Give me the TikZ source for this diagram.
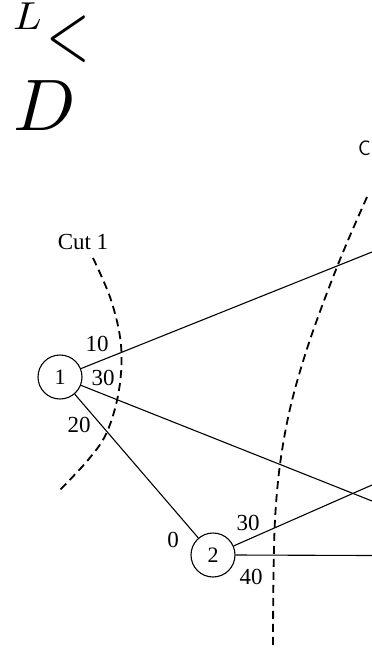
\documentclass[tikz,border=0pt]{standalone}
\usepackage{fontspec}
\setmainfont{Liberation Serif}
\usepackage{graphicx}
\begin{document}
\begin{tikzpicture}[x=1pt,y=-1pt,
  vert/.style={draw,circle,line width=1.1pt,minimum size=44pt,inner sep=0pt,font=\fontsize{22}{24}\selectfont},
  edge/.style={line width=1.1pt},
  cut/.style={line width=1.8pt,dash pattern=on 8pt off 5pt},
  lbl/.style={inner sep=0pt,font=\fontsize{23}{25}\selectfont}]
\useasboundingbox (0,0) rectangle (372,649);
\clip (0,0) rectangle (372,649);
% header symbols
\node[inner sep=0pt,anchor=base west] (hL) at (13,29) {\scalebox{4.2}[3.9]{$L$}};
\node[inner sep=0pt] (hlt) at (68,39) {\scalebox{5.6}[8.1]{$<$}};
\node[inner sep=0pt,anchor=base west] (hD) at (13,130) {\scalebox{7.3}{$D$}};
\node[inner sep=0pt,anchor=west,font=\sffamily\fontsize{21}{24}\selectfont] (c2) at (358,148) {C};
% vertices
\node[vert] (n1) at (60,377) {1};
\node[vert] (n2) at (213,555) {2};
\coordinate (e1) at (372,252);
\coordinate (e2) at (372,501);
\coordinate (e3) at (372,485);
\coordinate (e4) at (372,555.5);
\draw[edge] (n1) -- (e1);
\draw[edge] (n1) -- (e2);
\draw[edge] (n1) -- (n2);
\draw[edge] (n2) -- (e3);
\draw[edge] (n2.east) -- (e4);
% cuts
\draw[cut] plot[smooth,tension=0.6] coordinates {(93,258) (111,300) (121,345) (119,390) (107,432) (88,460) (58,492)};
\draw[cut] plot[smooth,tension=0.6] coordinates {(367,197) (337,267) (305,355) (285,433) (275,520) (273,647)};
% labels
\node[lbl] (lc1) at (83,242) {Cut 1};
\node[lbl] (l10) at (97,344) {10};
\node[lbl] (l30a) at (103,378) {30};
\node[lbl] (l20) at (79,425) {20};
\node[lbl] (l0) at (173,540) {0};
\node[lbl] (l30b) at (248,523) {30};
\node[lbl] (l40) at (251,577) {40};
\end{tikzpicture}
\end{document}
